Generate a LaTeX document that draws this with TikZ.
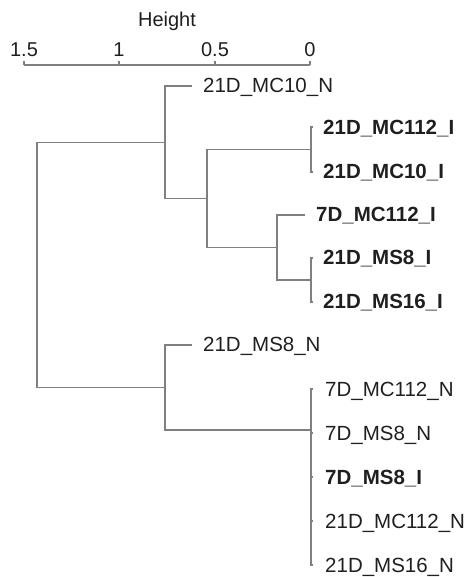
\documentclass[tikz,border=0pt]{standalone}
\usepackage{fontspec}
\setmainfont{Liberation Sans}
\begin{document}
\begin{tikzpicture}[x=1pt,y=-1pt,
  branch/.style={draw=black!50,line width=1.25pt},
  leaflab/.style={anchor=west,inner sep=0pt,text=black!88,font=\fontsize{20.5}{24}\selectfont},
  boldlab/.style={leaflab,font=\fontsize{20.5}{24}\selectfont\bfseries},
  ticklab/.style={anchor=base,inner sep=0pt,text=black!88,font=\fontsize{20}{24}\selectfont}]
\useasboundingbox (0,0) rectangle (466,577);
% axis
\coordinate (ax0) at (24,65);
\coordinate (ax1) at (310,65);
\draw[branch] (ax0) -- (ax1);
\foreach \x/\t/\n in {24/1.5/a,119/1/b,215/0.5/c,310/0/d}{
  \coordinate (t\n) at (\x,65);
  \coordinate (u\n) at (\x,61);
  \draw[branch] (t\n) -- (u\n);
  \node[ticklab] (tl\n) at (\x,57) {\t};
}
\node[ticklab] (htitle) at (167,27) {Height};
% internal nodes
\coordinate (R) at (37,264.9);
\coordinate (E) at (165,142.25);
\coordinate (G) at (165,387.5);
\coordinate (D) at (207,198.5);
\coordinate (A) at (311,149.5);
\coordinate (C) at (277,247.5);
\coordinate (B) at (311,280);
\coordinate (F) at (311,430);
% leaf ends
\coordinate (l1) at (192,86);
\coordinate (l2) at (313,127);
\coordinate (l3) at (313,172);
\coordinate (l4) at (305,215);
\coordinate (l5) at (313,258);
\coordinate (l6) at (313,302);
\coordinate (l7) at (192,345);
\coordinate (l8) at (313,389);
\coordinate (l9) at (313,433);
\coordinate (l10) at (313,477);
\coordinate (l11) at (313,521);
\coordinate (l12) at (313,565);
% labels
\node[leaflab] (n1) at (203,87) {21D\_MC10\_N};
\node[boldlab] (n2) at (323,129) {21D\_MC112\_I};
\node[boldlab] (n3) at (323,173) {21D\_MC10\_I};
\node[boldlab] (n4) at (316,216) {7D\_MC112\_I};
\node[boldlab] (n5) at (323,259) {21D\_MS8\_I};
\node[boldlab] (n6) at (323,303) {21D\_MS16\_I};
\node[leaflab] (n7) at (203,346) {21D\_MS8\_N};
\node[leaflab] (n8) at (325,391) {7D\_MC112\_N};
\node[leaflab] (n9) at (325,435) {7D\_MS8\_N};
\node[boldlab] (n10) at (325,479) {7D\_MS8\_I};
\node[leaflab] (n11) at (325,523) {21D\_MC112\_N};
\node[leaflab] (n12) at (325,567) {21D\_MS16\_N};
% branches
\draw[branch] (R) |- (E);
\draw[branch] (R) |- (G);
\draw[branch] (E) |- (l1);
\draw[branch] (E) |- (D);
\draw[branch] (D) |- (A);
\draw[branch] (D) |- (C);
\draw[branch] (A) |- (l2);
\draw[branch] (A) |- (l3);
\draw[branch] (C) |- (l4);
\draw[branch] (C) |- (B);
\draw[branch] (B) |- (l5);
\draw[branch] (B) |- (l6);
\draw[branch] (G) |- (l7);
\draw[branch] (G) |- (F);
\foreach \i in {8,...,12}{\draw[branch] (F) |- (l\i);}
\end{tikzpicture}
\end{document}
